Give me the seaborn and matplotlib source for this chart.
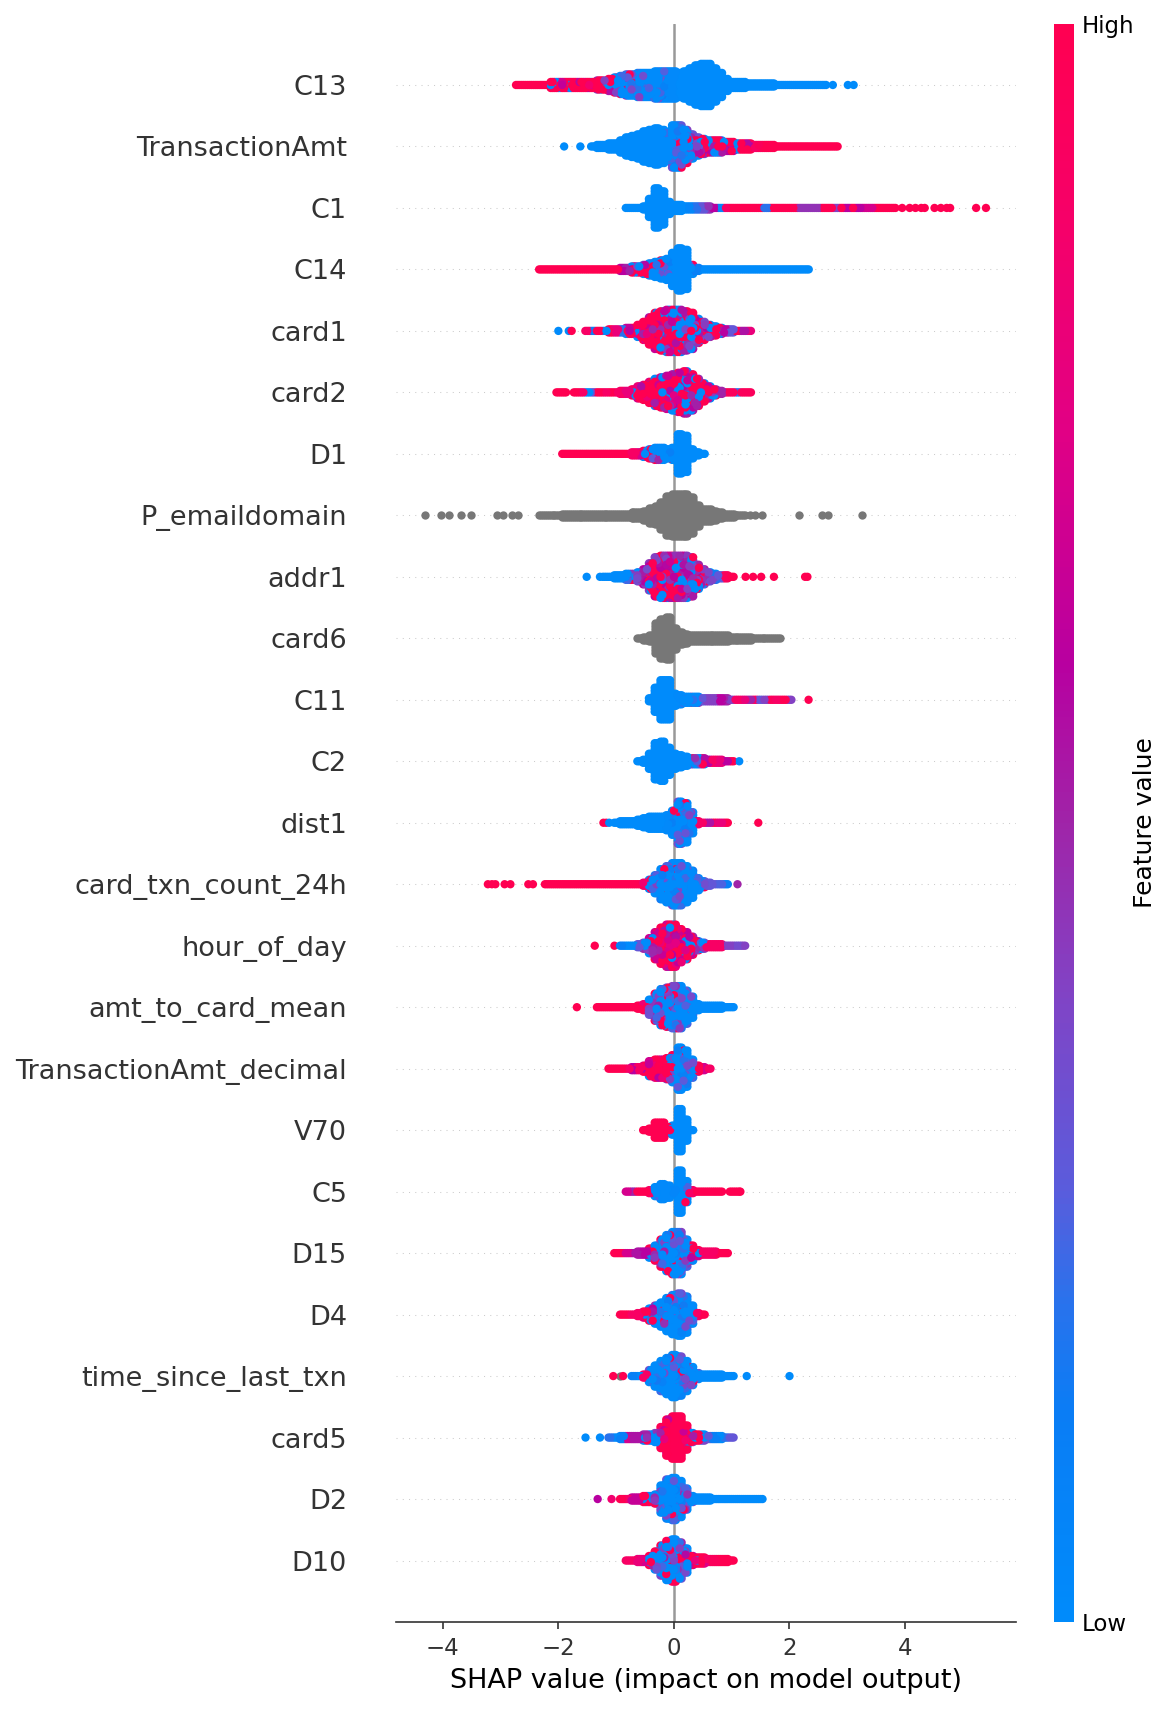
import numpy as np
import pandas as pd
import matplotlib
matplotlib.use("Agg")
import matplotlib.pyplot as plt
from matplotlib.cm import ScalarMappable
from matplotlib.colors import LinearSegmentedColormap, Normalize
import seaborn as sns

# Beeswarm summary of SHAP values. Each feature is described by a histogram on a
# 0.1 wide grid: the first bin, the dots stacked in each bin, and the share of
# high feature values in each bin. Isolated dots are listed as (shap, value).

FEATURES = ["C13", "TransactionAmt", "C1", "C14", "card1", "card2", "D1", "P_emaildomain",
            "addr1", "card6", "C11", "C2", "dist1", "card_txn_count_24h", "hour_of_day",
            "amt_to_card_mean", "TransactionAmt_decimal", "V70", "C5", "D15", "D4",
            "time_since_last_txn", "card5", "D2", "D10"]

GRAY = float("nan")

C13_first = -2.7
C13_counts = [1]*6 + [3]*8 + [4,4,5,6,7,8,8,9,9,9,10,10,10,10,9,10,12,14,15,15,12,9,5,3,3,3,2,2,2,2,2] + [1]*9
C13_high = [1]*6 + [.85]*8 + [.6,.55,.5,.3,.25,.25,.2,.12,.1,.08,.05,.03,.02,.02] + [0]*26
C13_extra = [(2.75, 0), (3.01, 0), (3.11, 0)]

TransactionAmt_first = -1.4
TransactionAmt_counts = [1,2,2,3,3,5,7,8,9,11,12,13,12,10,15,15,12,9,7,6,5,5,5,4,4,3,3,3,2,2,2,2] + [1]*11
TransactionAmt_high = [0]*13 + [.03,.08,.15,.2,.3,.4,.45,.5,.6,.7,.75,.8,.85,.85,.85,.9,.95,1,1] + [1]*11
TransactionAmt_extra = [(-1.9, 0), (-1.62, 0)]

C1_first = -0.8
C1_counts = [1,1,1,2,7,14,12,5,3,3,2,2,2,2,2] + [1]*32
C1_high = [0]*11 + [.05,.2,.3,.45,.6,.05,.9] + [1]*6 + [.2] + [1]*5 + [.45]*4 + [1,1,.4,1,.6,1,.6,.7,.7,1,1,1,1]
C1_extra = [(3.95, 1), (4.08, 1), (4.18, 1), (4.28, 1), (4.34, 1), (4.51, 1), (4.62, 1), (4.72, 1), (4.78, 1), (5.23, 1), (5.4, 1)]

C14_first = -2.3
C14_counts = [1]*14 + [2,2,3,3,4,5,6,7,8,12,15,14,4,2] + [1]*19
C14_high = [1]*14 + [.6,.5,.5,.5,.4,.3,.2,.1,.05,0,0,0,.3,.1] + [0]*19
C14_extra = []

card1_first = -1.5
card1_counts = [1,1,1,1,2,2,2,3,3,5,7,10,13,14,15,15,15,14,13,9,7,5,4,3,2,2,1,1,1]
card1_high = [.9,.1,1,0,1,.8,.2,.8,.8,.8,.75,.7,.7,.65,.6,.6,.55,.5,.5,.5,.45,.45,.4,.5,.6,.3,1,.55,.8]
card1_extra = [(-2.0, 0), (-1.82, 0), (-1.77, 1)]

card2_first = -2.0
card2_counts = [1,1,0,1] + [1]*7 + [2,2,3,5,6,8,10,11,12,13,14,15,13,10,7,5,3,2,1,1,1,1,1]
card2_high = [1,1,0,1,.9,0,.3,1,.9,1,.9,.9,.8,.8,.85,.8,.75,.75,.7,.7,.7,.7,.7,.7,.7,.7,.7,.6,.5,.95,.95,.2,.95,.95]
card2_extra = []

D1_first = -1.9
D1_counts = [1]*12 + [2,2,3,4,5,5,4,5,14,13,4,2,1]
D1_high = [1]*12 + [.9,.7,.5,.35,.25,.1,.05,0,0,0,0,0,0]
D1_extra = []

P_emaildomain_first = -2.3
P_emaildomain_counts = [1]*4 + [2]*12 + [3,3,4,6,7,10,14,15,15,15,13,8,5,5,4,3,2,2,1,1]
P_emaildomain_high = None
P_emaildomain_extra = [(-4.31, GRAY), (-4.03, GRAY), (-3.89, GRAY), (-3.69, GRAY), (-3.52, GRAY), (-3.06, GRAY),
                       (-2.96, GRAY), (-2.81, GRAY), (-2.69, GRAY), (1.32, GRAY), (1.41, GRAY), (1.52, GRAY),
                       (2.16, GRAY), (2.57, GRAY), (2.67, GRAY), (3.26, GRAY)]

addr1_first = -1.2
addr1_counts = [1,1,2,2,3,3,4,6,10,14,15,15,15,15,15,14,9,6,4,3,2,2,1]
addr1_high = [0,0,0,0,.1,.2,.4,.5,.55,.55,.55,.55,.55,.55,.55,.55,.55,.5,.4,.1,.3,.95,1]
addr1_extra = [(-1.51, 0), (-1.28, 0), (1.24, 1), (1.37, 1), (1.51, 1), (1.73, 1), (2.27, 1), (2.31, 1)]

card6_first = -0.6
card6_counts = [1,2,3,11,14,15,8,5,4,3,3,3,3,3,3,3,2,2,2,2,1,1,1,1,1]
card6_high = None
card6_extra = []

C11_first = -0.4
C11_counts = [2,9,14,14,5,4,3,3,3,2,2,2,2,2] + [1]*11
C11_high = [0,0,0,0,0,.02,.1,.2,.2,.3,.4,.4,.6,.5,.4,.9,.8,.5,.9,.3,.4,.95,.9,1,.4]
C11_extra = [(2.33, 1)]

C2_first = -0.6
C2_counts = [1,2,6,13,14,10,6,5,4,3,3,3,2,2,2,1,1]
C2_high = [0,0,0,0,0,0,0,0,0,.2,.35,.4,.6,.9,.8,.6,1]
C2_extra = [(1.13, 0)]

dist1_first = -1.0
dist1_counts = [1,2,2,2,3,4,5,5,5,6,9,15,14,8,2,1,1,1,1,1]
dist1_high = [0,0,0,0,0,0,0,0,0,.02,.05,.1,.1,.1,.9,.9,.55,1,.8,1]
dist1_extra = [(-1.22, 1), (-1.17, 1), (-1.12, 0), (1.46, 1)]

card_txn_count_24h_first = -2.2
card_txn_count_24h_counts = [1]*17 + [2,4,7,11,13,15,15,13,10,5,3,2,1,1,1]
card_txn_count_24h_high = [1]*17 + [.85,.3,.1,.1,.05,.05,.05,.05,.05,.05,.1,.3,.3,.25,.1]
card_txn_count_24h_extra = [(-3.22, 1), (-3.15, 1), (-3.09, 1), (-2.93, 1), (-2.83, 1), (-2.52, 1), (-2.44, 1), (1.1, .5)]

hour_of_day_first = -0.9
hour_of_day_counts = [1,1,1,2,3,6,10,13,15,15,12,10,7,4,3,2,2,2,1,1,1,1]
hour_of_day_high = [.1,0,0,.3,.4,.6,.75,.8,.8,.85,.8,.75,.65,.5,.2,.9,.9,.9,.4,.4,.35,.4]
hour_of_day_extra = [(-1.37, 1), (-1.03, 1)]

amt_to_card_mean_first = -1.3
amt_to_card_mean_counts = [1]*7 + [2,3,6,10,13,14,15,15,12,8,3,2,2,2,2,1,1]
amt_to_card_mean_high = [1]*7 + [1,.85,.35,.3,.25,.25,.2,.15,.1,.05,0,0,0,0,0,0,0]
amt_to_card_mean_extra = [(-1.68, 1)]

TransactionAmt_decimal_first = -1.1
TransactionAmt_decimal_counts = [1,1,1,1,2,2,3,6,7,7,8,10,15,13,7,3,2,1]
TransactionAmt_decimal_high = [1,1,1,.9,.6,.9,.9,.85,.9,.8,.55,.15,.05,.05,.1,.5,.7,.9]
TransactionAmt_decimal_extra = []

V70_first = -0.5
V70_counts = [1,2,6,6,3,4,15,8,1]
V70_high = [1,1,1,1,1,0,0,0,0]
V70_extra = []

C5_first = -0.8
C5_counts = [1,1,1,1,2,4,6,5,2,15,8,2,1,1,1,1,1,0,1,1]
C5_high = [.7,.5,1,1,.9,.05,.02,.02,.05,0,.05,.9,1,1,1,1,1,0,1,1]
C5_extra = [(1.15, 1)]

D15_first = -1.0
D15_counts = [1,1,1,1,2,2,4,6,10,13,15,15,10,6,3,2,2,2,1,1]
D15_high = [1,1,.7,.55,.55,.6,.6,.5,.3,.15,.1,.1,.15,.5,.8,.9,.9,.9,1,1]
D15_extra = []

D4_first = -0.9
D4_counts = [1,1,1,2,3,5,7,9,12,14,15,13,7,2,1]
D4_high = [1,1,.9,.9,.9,.7,.35,.2,.1,.05,.03,.03,.1,.9,1]
D4_extra = []

time_since_last_txn_first = -0.7
time_since_last_txn_counts = [1,1,2,5,8,11,13,15,14,11,7,3,2,2,2,2,1,1]
time_since_last_txn_high = [.1,0,.9,.1,.05,.05,.03,.03,.03,.05,.15,.1,0,0,0,0,0,0]
time_since_last_txn_extra = [(-1.05, 1), (-.93, GRAY), (-.88, 1), (1.26, 0), (2.0, 0)]

card5_first = -1.1
card5_counts = [1,1,2,2,2,2,3,3,4,8,13,15,15,9,4,3,3,2,2,2,1,1]
card5_high = [.2,0,.1,.7,.55,.55,.55,.4,.25,.75,.97,.99,.99,.9,.4,.9,.3,.3,.1,0,.2,.3]
card5_extra = [(-1.53, 0), (-1.28, 0)]

D2_first = -0.9
D2_counts = [1,1,2,2,3,3,4,10,14,15,13,8,3,2,2,2] + [1]*9
D2_high = [1,.9,.65,.65,.6,.55,.5,.2,.08,.05,.1,.2,.1,0,0,0] + [0]*9
D2_extra = [(-1.32, .6), (-1.08, .85)]

D10_first = -0.8
D10_counts = [1,1,2,2,4,7,11,14,15,13,9,4,3,3,2,2,2,2,1]
D10_high = [.9,.9,.8,.7,.5,.3,.3,.25,.2,.25,.4,.8,.85,.9,.9,.95,1,1,1]
D10_extra = []

# Share of dots in a mixed bin that take an intermediate feature value.
BLEND_BY_FEATURE = {"addr1": 0.65, "hour_of_day": 0.6, "amt_to_card_mean": 0.5}
DEFAULT_BLEND = 0.35

DOT_SPACING = 0.049
BIN_WIDTH = 0.1
# Every bin is laid out as three neighbouring columns so the swarm edge stays smooth.
BIN_COLUMNS = (-0.033, 0.0, 0.033)

feature_table = {name: (globals()[f"{name}_first"], globals()[f"{name}_counts"],
                        globals()[f"{name}_high"], globals()[f"{name}_extra"])
                 for name in FEATURES}


def build_rows():
    """Stack each histogram bin into symmetric columns of dots."""
    records = []
    for idx, name in enumerate(FEATURES):
        first, counts, high, extra = feature_table[name]
        row = len(FEATURES) - 1 - idx
        blend = BLEND_BY_FEATURE.get(name, DEFAULT_BLEND)
        k = 0
        for b, n in enumerate(counts):
            center = first + b * BIN_WIDTH
            share = GRAY if high is None else high[b]
            for column in BIN_COLUMNS:
                for i in range(n):
                    k += 1
                    offset = (i - (n - 1) / 2) * DOT_SPACING
                    # Quadratic sequences spread the colours evenly through a bin without stripes.
                    a1 = (k * k * 0.754877) % 1
                    a2 = (k * k * 0.569840 + k * 0.3) % 1
                    if np.isnan(share) or n <= 2 or share <= 0.02 or share >= 0.98:
                        value = share
                    elif a1 < blend:
                        value = min(max(0.2 + 0.6 * share + 0.3 * (a2 - 0.5), 0.0), 1.0)
                    else:
                        value = 1.0 if a2 < share else 0.0
                    records.append((center + column, row + offset, value, (k * k * 0.414214 + k * 0.1) % 1))
        for x, value in extra:
            records.append((x, row, value, 0.5))
    frame = pd.DataFrame(records, columns=["shap", "row", "value", "order"])
    return frame.sort_values(["order"], kind="stable")


dots = build_rows()

red_blue = LinearSegmentedColormap.from_list(
    "red_blue",
    [(0.0, "#008bfb"), (0.13, "#0a7df5"), (0.2, "#2a72ec"), (0.27, "#5a5cdc"), (0.39, "#8044c6"),
     (0.5, "#a024a8"), (0.6, "#b800a0"), (0.75, "#e20084"), (0.88, "#f60068"), (1.0, "#ff0051")],
)

sns.set_style("white")
plt.rcParams["font.family"] = "DejaVu Sans"

W, H, DPI = 1173, 1709, 150
fig = plt.figure(figsize=(W / DPI, H / DPI), dpi=DPI, facecolor="white")
ax = fig.add_axes([396 / W, 1 - 1622 / H, (1016 - 396) / W, (1622 - 23.5) / H])

for row in range(len(FEATURES)):
    ax.axhline(row, color="#cccccc", lw=0.5, dashes=(1, 5), zorder=-1)
ax.axvline(0, color="#999999", lw=1.2, zorder=-1)

sns.scatterplot(data=dots[dots["value"].isna()], x="shap", y="row", color="#777777",
                s=16, linewidth=0, legend=False, ax=ax, zorder=2)
sns.scatterplot(data=dots[dots["value"].notna()], x="shap", y="row", hue="value",
                palette=red_blue, hue_norm=(0, 1), s=16, linewidth=0, legend=False, ax=ax, zorder=3)

ax.set_xlim(-4.81, 5.92)
ax.set_ylim(-1, len(FEATURES))
ax.set_yticks(range(len(FEATURES)))
ax.set_yticklabels(FEATURES[::-1], fontsize=13, color="#333333")
ax.set_xticks([-4, -2, 0, 2, 4])
ax.tick_params(axis="y", length=20, width=0.5, color="none", left=True)
ax.tick_params(axis="x", labelsize=11, labelcolor="#333333", color="#333333", length=3.5, width=0.8, bottom=True)
ax.set_xlabel("SHAP value (impact on model output)", fontsize=13, color="black")
ax.set_ylabel("")
for side in ("top", "left", "right"):
    ax.spines[side].set_visible(False)
ax.spines["bottom"].set_color("#333333")
ax.spines["bottom"].set_linewidth(0.8)
ax.grid(False)

cax = fig.add_axes([1054 / W, 1 - 1622 / H, 20 / W, (1622 - 24) / H])
bar = fig.colorbar(ScalarMappable(norm=Normalize(0, 1), cmap=red_blue), cax=cax)
bar.set_ticks([0, 1], labels=["Low", "High"])
bar.ax.tick_params(labelsize=11, length=0, labelcolor="black", pad=3.5)
bar.set_label("Feature value", size=12, labelpad=-0.5, color="black")
bar.outline.set_visible(False)

fig.savefig("out.png", dpi=DPI, facecolor="white")
